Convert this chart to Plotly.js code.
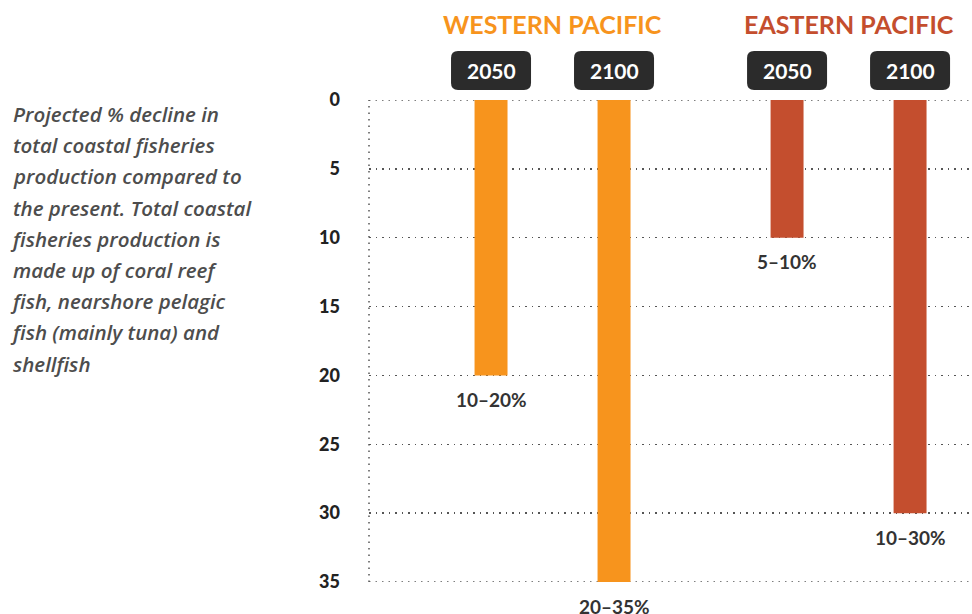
<!DOCTYPE html>
<html>
<head>
<meta charset="utf-8">
<script src="https://cdn.plot.ly/plotly-3.0.1.min.js"></script>
<style>html,body{margin:0;padding:0;background:#fff;}#chart{width:972px;height:614px;}</style>
</head>
<body>
<div id="chart"></div>
<script>
// ---- data ----
const regions = ['Western Pacific', 'Eastern Pacific'];
const regionTitles = ['WESTERN PACIFIC', 'EASTERN PACIFIC'];
const regionColors = ['#F7941D', '#C44E2E'];
const years = ['2050', '2100'];
const decline2050 = [20, 10];
const decline2100 = [35, 30];
const labels2050 = ['10–20%', '5–10%'];
const labels2100 = ['20–35%', '10–30%'];
const yTicks = [0, 5, 10, 15, 20, 25, 30, 35];
const noteLines = [
  'Projected % decline in',
  'total coastal fisheries',
  'production compared to',
  'the present. Total coastal',
  'fisheries production is',
  'made up of coral reef',
  'fish, nearshore pelagic',
  'fish (mainly tuna) and',
  'shellfish'
];

// ---- layout constants ----
const W = 972, H = 614;
const M = {l: 369, r: 0, t: 100, b: 32};
const plotW = W - M.l - M.r;
const plotH = H - M.t - M.b;
const BAR_SHIFT = 61.5; // px offset of each year within a region group
const FONT = 'Lato, "Open Sans", sans-serif';
const NOTE_FONT = '"Open Sans", Lato, sans-serif';
const DOTS = '1.5px,5px';
const GRID = '#555';

const series = [
  {year: years[0], vals: decline2050, labels: labels2050, shift: -BAR_SHIFT},
  {year: years[1], vals: decline2100, labels: labels2100, shift: BAR_SHIFT}
];

const traces = series.map(s => ({
  type: 'bar',
  name: s.year,
  x: regions,
  y: s.vals,
  marker: {color: regionColors},
  hoverinfo: 'x+y+name',
  cliponaxis: false
}));

const annotations = [];
const shapes = [];

// region headers
regions.forEach((r, i) => {
  annotations.push({
    xref: 'x', yref: 'paper', x: r, y: 1, yanchor: 'middle', xanchor: 'center',
    yshift: 76, showarrow: false, text: regionTitles[i],
    font: {family: FONT, size: 25, color: regionColors[i], weight: 700}
  });
});

// year boxes and value labels
const bw = 80, bh = 39, rr = 7, by0 = 10;
series.forEach(s => {
  regions.forEach((r, i) => {
    const x0 = s.shift - bw / 2, x1 = s.shift + bw / 2, y0 = by0, y1 = by0 + bh;
    const path = `M${x0 + rr},${y0} L${x1 - rr},${y0} Q${x1},${y0} ${x1},${y0 + rr} L${x1},${y1 - rr} Q${x1},${y1} ${x1 - rr},${y1} L${x0 + rr},${y1} Q${x0},${y1} ${x0},${y1 - rr} L${x0},${y0 + rr} Q${x0},${y0} ${x0 + rr},${y0} Z`;
    shapes.push({
      type: 'path', xref: 'x', yref: 'paper', xsizemode: 'pixel', ysizemode: 'pixel',
      xanchor: r, yanchor: 1, path: path,
      fillcolor: '#2B2B2B', line: {width: 0}, layer: 'above'
    });
    annotations.push({
      xref: 'x', yref: 'paper', x: r, y: 1, xshift: s.shift, yshift: by0 + bh / 2,
      yanchor: 'middle', xanchor: 'center', showarrow: false, text: s.year,
      font: {family: FONT, size: 21, color: '#FFFFFF', weight: 700}
    });
    annotations.push({
      xref: 'x', yref: 'y', x: r, y: s.vals[i], xshift: s.shift, yshift: -24,
      yanchor: 'middle', xanchor: 'center', showarrow: false, text: s.labels[i],
      font: {family: FONT, size: 19, color: '#333333', weight: 700}
    });
  });
});

// left note text (compensate italic 'f' overhang so all lines share one left edge)
noteLines.forEach((t, i) => {
  const ypx = 114 + i * 31.2;
  annotations.push({
    xref: 'paper', yref: 'paper', x: (11 - M.l) / plotW, y: (H - M.b - ypx) / plotH,
    xshift: t.charAt(0) === 'f' ? -3 : 0,
    xanchor: 'left', yanchor: 'middle', showarrow: false, align: 'left', text: '<i>' + t + '</i>',
    font: {family: NOTE_FONT, size: 20.5, color: '#4D4D4D', weight: 600}
  });
});

// dotted vertical axis line
shapes.push({
  type: 'line', xref: 'paper', yref: 'paper', x0: 0, x1: 0, y0: 0, y1: 1,
  line: {color: GRID, width: 1.5, dash: DOTS}, layer: 'below'
});
// gridlines at the range ends (Plotly drops grid lines that sit on the plot edge)
[yTicks[0], yTicks[yTicks.length - 1]].forEach(v => {
  shapes.push({
    type: 'line', xref: 'paper', yref: 'y', x0: 0, x1: 1, y0: v, y1: v,
    line: {color: GRID, width: 1.5, dash: DOTS}, layer: 'below'
  });
});

const layout = {
  width: W, height: H,
  margin: M,
  paper_bgcolor: '#fff', plot_bgcolor: '#fff',
  showlegend: false,
  barmode: 'group',
  bargap: 0.169,
  bargroupgap: 0.732,
  xaxis: {
    type: 'category', range: [-0.62, 1.417],
    showticklabels: false, showgrid: false, zeroline: false, showline: false, fixedrange: true
  },
  yaxis: {
    range: [35, 0], tickvals: yTicks, ticktext: yTicks.map(String),
    showgrid: true, gridcolor: GRID, gridwidth: 1.5, griddash: DOTS,
    zeroline: false, showline: false, ticks: '',
    ticklabelstandoff: 28,
    tickfont: {family: FONT, size: 18, color: '#222', weight: 900},
    fixedrange: true
  },
  shapes: shapes,
  annotations: annotations
};

Plotly.newPlot('chart', traces, layout, {displayModeBar: false, staticPlot: true});
</script>
</body>
</html>
